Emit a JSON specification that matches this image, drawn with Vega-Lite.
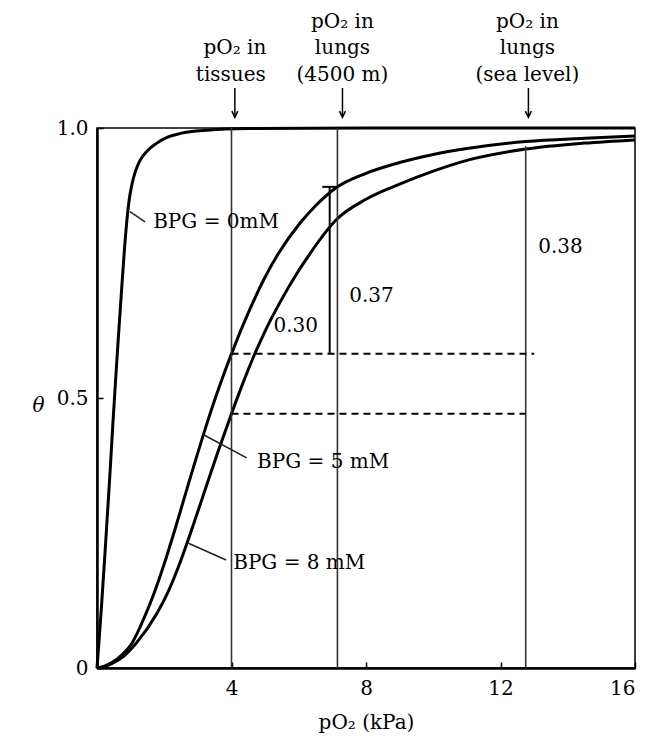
{
  "$schema": "https://vega.github.io/schema/vega-lite/v6.json",
  "width": 538,
  "height": 540,
  "autosize": {"type": "none"},
  "padding": {"left": 97, "top": 128, "right": 12, "bottom": 70},
  "background": "white",
  "config": {
    "view": {"stroke": "black", "strokeWidth": 1.5},
    "font": "DejaVu Serif"
  },
  "datasets": {
    "curves": [
      {"s": "0", "x": 0, "y": 0}, {"s": "0", "x": 0.07, "y": 0.058}, {"s": "0", "x": 0.14, "y": 0.12}, {"s": "0", "x": 0.24, "y": 0.215}, {"s": "0", "x": 0.31, "y": 0.285}, {"s": "0", "x": 0.4, "y": 0.375}, {"s": "0", "x": 0.47, "y": 0.45}, {"s": "0", "x": 0.55, "y": 0.53}, {"s": "0", "x": 0.63, "y": 0.607}, {"s": "0", "x": 0.72, "y": 0.69}, {"s": "0", "x": 0.81, "y": 0.77}, {"s": "0", "x": 0.89, "y": 0.83}, {"s": "0", "x": 0.96, "y": 0.868}, {"s": "0", "x": 1.03, "y": 0.893}, {"s": "0", "x": 1.15, "y": 0.921}, {"s": "0", "x": 1.28, "y": 0.94}, {"s": "0", "x": 1.5, "y": 0.958}, {"s": "0", "x": 1.78, "y": 0.972}, {"s": "0", "x": 2.1, "y": 0.983}, {"s": "0", "x": 2.48, "y": 0.99}, {"s": "0", "x": 3.27, "y": 0.996}, {"s": "0", "x": 4.5, "y": 0.999}, {"s": "0", "x": 8, "y": 1.0}, {"s": "0", "x": 16, "y": 1.0},
      {"s": "5", "x": 0, "y": 0}, {"s": "5", "x": 0.2, "y": 0.003}, {"s": "5", "x": 0.44, "y": 0.01}, {"s": "5", "x": 0.75, "y": 0.025}, {"s": "5", "x": 1.03, "y": 0.045}, {"s": "5", "x": 1.43, "y": 0.097}, {"s": "5", "x": 1.7, "y": 0.139}, {"s": "5", "x": 2.0, "y": 0.193}, {"s": "5", "x": 2.32, "y": 0.257}, {"s": "5", "x": 2.72, "y": 0.341}, {"s": "5", "x": 3.21, "y": 0.441}, {"s": "5", "x": 3.51, "y": 0.498}, {"s": "5", "x": 3.76, "y": 0.542}, {"s": "5", "x": 4.0, "y": 0.582}, {"s": "5", "x": 4.55, "y": 0.665}, {"s": "5", "x": 5.0, "y": 0.724}, {"s": "5", "x": 5.39, "y": 0.767}, {"s": "5", "x": 6.04, "y": 0.824}, {"s": "5", "x": 6.5, "y": 0.856}, {"s": "5", "x": 7.08, "y": 0.888}, {"s": "5", "x": 8.0, "y": 0.916}, {"s": "5", "x": 9.0, "y": 0.936}, {"s": "5", "x": 10.0, "y": 0.951}, {"s": "5", "x": 11.0, "y": 0.962}, {"s": "5", "x": 12.75, "y": 0.975}, {"s": "5", "x": 14.5, "y": 0.981}, {"s": "5", "x": 16, "y": 0.985},
      {"s": "8", "x": 0, "y": 0}, {"s": "8", "x": 0.2, "y": 0.002}, {"s": "8", "x": 0.44, "y": 0.008}, {"s": "8", "x": 0.8, "y": 0.022}, {"s": "8", "x": 1.18, "y": 0.047}, {"s": "8", "x": 1.78, "y": 0.101}, {"s": "8", "x": 2.1, "y": 0.139}, {"s": "8", "x": 2.42, "y": 0.187}, {"s": "8", "x": 2.82, "y": 0.257}, {"s": "8", "x": 3.21, "y": 0.329}, {"s": "8", "x": 3.6, "y": 0.401}, {"s": "8", "x": 4.0, "y": 0.471}, {"s": "8", "x": 4.3, "y": 0.521}, {"s": "8", "x": 4.64, "y": 0.574}, {"s": "8", "x": 5.0, "y": 0.624}, {"s": "8", "x": 5.45, "y": 0.678}, {"s": "8", "x": 6.0, "y": 0.736}, {"s": "8", "x": 6.34, "y": 0.768}, {"s": "8", "x": 7.13, "y": 0.831}, {"s": "8", "x": 8.0, "y": 0.868}, {"s": "8", "x": 9.0, "y": 0.896}, {"s": "8", "x": 10.0, "y": 0.92}, {"s": "8", "x": 11.0, "y": 0.94}, {"s": "8", "x": 12.75, "y": 0.961}, {"s": "8", "x": 14.5, "y": 0.972}, {"s": "8", "x": 16, "y": 0.978}
    ],
    "vlines": [
      {"x": 4.0, "y": 0, "y2": 1.0},
      {"x": 7.15, "y": 0, "y2": 1.0},
      {"x": 12.75, "y": 0, "y2": 0.966}
    ],
    "bracket": [
      {"x": 6.92, "x2": 6.92, "y": 0.582, "y2": 0.891},
      {"x": 6.7, "x2": 7.17, "y": 0.891, "y2": 0.891}
    ],
    "dashed": [
      {"y": 0.582, "x": 4.0, "x2": 13.0},
      {"y": 0.471, "x": 4.0, "x2": 12.75}
    ],
    "leaders": [
      {"x": 0.98, "y": 0.845, "x2": 1.43, "y2": 0.826},
      {"x": 3.17, "y": 0.432, "x2": 4.45, "y2": 0.389},
      {"x": 2.72, "y": 0.231, "x2": 3.84, "y2": 0.2}
    ],
    "leftText": [
      {"t": "BPG = 0mM", "x": 1.67, "y": 0.826},
      {"t": "BPG = 5 mM", "x": 4.76, "y": 0.381},
      {"t": "BPG = 8 mM", "x": 4.05, "y": 0.194},
      {"t": "0.30", "x": 5.25, "y": 0.633},
      {"t": "0.37", "x": 7.5, "y": 0.688},
      {"t": "0.38", "x": 13.12, "y": 0.78}
    ],
    "topText": [
      {"t": "pO₂ in", "x": 4.1, "y": 1.148},
      {"t": "tissues", "x": 3.98, "y": 1.098},
      {"t": "pO₂ in", "x": 7.3, "y": 1.196},
      {"t": "lungs", "x": 7.3, "y": 1.148},
      {"t": "(4500 m)", "x": 7.3, "y": 1.098},
      {"t": "pO₂ in", "x": 12.8, "y": 1.196},
      {"t": "lungs", "x": 12.8, "y": 1.148},
      {"t": "(sea level)", "x": 12.8, "y": 1.098}
    ],
    "arrows": [
      {"x": 4.1, "y": 1.02, "y2": 1.074},
      {"x": 7.3, "y": 1.02, "y2": 1.074},
      {"x": 12.83, "y": 1.02, "y2": 1.074}
    ]
  },
  "layer": [
    {
      "data": {"name": "curves"},
      "mark": {"type": "line", "color": "black", "strokeWidth": 3, "interpolate": "monotone"},
      "encoding": {
        "x": {
          "field": "x", "type": "quantitative",
          "scale": {"domain": [0, 16], "nice": false, "zero": false},
          "axis": {
            "values": [4, 8, 12, 16], "title": "pO₂ (kPa)", "grid": false,
            "labelFont": "DejaVu Serif", "labelFontSize": 20, "labelColor": "black",
            "tickSize": -6, "tickColor": "black", "tickWidth": 1.5, "labelPadding": 16,
            "domainColor": "black", "domainWidth": 2.5,
            "titleFont": "DejaVu Serif", "titleFontSize": 20, "titleFontWeight": "normal",
            "titleColor": "black", "titlePadding": 14
          }
        },
        "y": {
          "field": "y", "type": "quantitative",
          "scale": {"domain": [0, 1], "nice": false},
          "axis": {
            "values": [0, 0.5, 1], "title": "θ", "grid": false,
            "labelExpr": "datum.value == 0 ? '0' : format(datum.value, '.1f')",
            "labelFont": "DejaVu Serif", "labelFontSize": 20, "labelColor": "black",
            "tickSize": -6, "tickColor": "black", "tickWidth": 1.5, "labelPadding": 15,
            "domainColor": "black", "domainWidth": 2.5,
            "titleFont": "DejaVu Serif", "titleFontSize": 20, "titleFontWeight": "normal",
            "titleFontStyle": "italic", "titleColor": "black", "titleAngle": 0,
            "titleAlign": "center", "titleBaseline": "middle", "titleX": -59, "titleY": 277
          }
        },
        "detail": {"field": "s"}
      }
    },
    {
      "data": {"name": "vlines"},
      "mark": {"type": "rule", "color": "#333333", "strokeWidth": 1.6},
      "encoding": {
        "x": {"field": "x", "type": "quantitative"},
        "y": {"field": "y", "type": "quantitative"},
        "y2": {"field": "y2"}
      }
    },
    {
      "data": {"name": "bracket"},
      "mark": {"type": "rule", "color": "black", "strokeWidth": 2},
      "encoding": {
        "x": {"field": "x", "type": "quantitative"},
        "x2": {"field": "x2"},
        "y": {"field": "y", "type": "quantitative"},
        "y2": {"field": "y2"}
      }
    },
    {
      "data": {"name": "dashed"},
      "mark": {"type": "rule", "color": "black", "strokeWidth": 2, "strokeDash": [7, 5]},
      "encoding": {
        "x": {"field": "x", "type": "quantitative"},
        "x2": {"field": "x2"},
        "y": {"field": "y", "type": "quantitative"}
      }
    },
    {
      "data": {"name": "leaders"},
      "mark": {"type": "rule", "color": "#222222", "strokeWidth": 1.5},
      "encoding": {
        "x": {"field": "x", "type": "quantitative"},
        "x2": {"field": "x2"},
        "y": {"field": "y", "type": "quantitative"},
        "y2": {"field": "y2"}
      }
    },
    {
      "data": {"name": "leftText"},
      "mark": {"type": "text", "align": "left", "baseline": "middle", "font": "DejaVu Serif", "fontSize": 20, "color": "black"},
      "encoding": {
        "x": {"field": "x", "type": "quantitative"},
        "y": {"field": "y", "type": "quantitative"},
        "text": {"field": "t"}
      }
    },
    {
      "data": {"name": "topText"},
      "mark": {"type": "text", "align": "center", "baseline": "middle", "font": "DejaVu Serif", "fontSize": 20, "color": "black"},
      "encoding": {
        "x": {"field": "x", "type": "quantitative"},
        "y": {"field": "y", "type": "quantitative"},
        "text": {"field": "t"}
      }
    },
    {
      "data": {"name": "arrows"},
      "mark": {"type": "rule", "color": "black", "strokeWidth": 1.5},
      "encoding": {
        "x": {"field": "x", "type": "quantitative"},
        "y": {"field": "y", "type": "quantitative"},
        "y2": {"field": "y2"}
      }
    },
    {
      "data": {"name": "arrows"},
      "mark": {"type": "point", "shape": "M-0.5,-1L0,0L0.5,-1", "size": 144, "filled": false, "stroke": "black", "strokeWidth": 1.5, "opacity": 1},
      "encoding": {
        "x": {"field": "x", "type": "quantitative"},
        "y": {"field": "y", "type": "quantitative"}
      }
    }
  ]
}
